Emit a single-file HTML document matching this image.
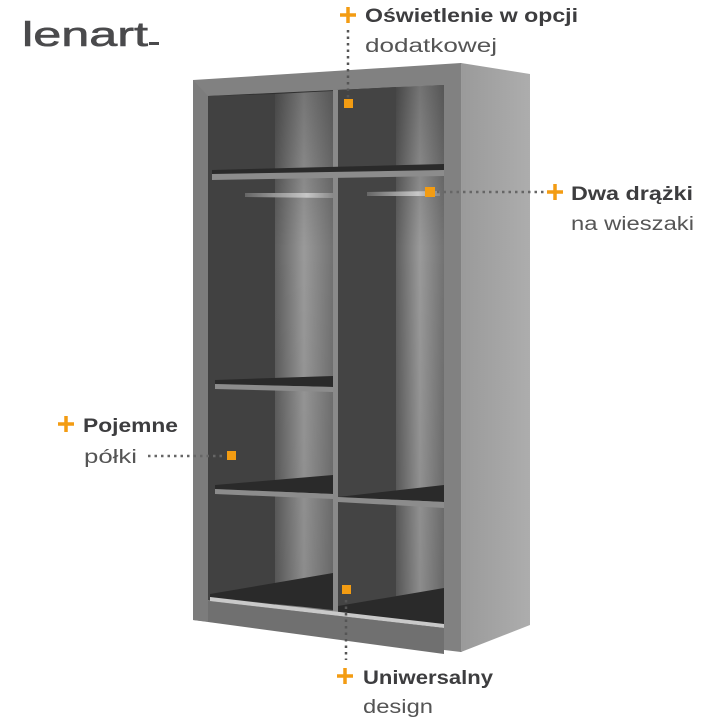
<!DOCTYPE html>
<html><head><meta charset="utf-8"><style>
html,body{margin:0;padding:0;background:#fff;}
svg{display:block;}
text{font-family:"Liberation Sans",sans-serif;}
</style></head><body>
<svg width="720" height="720" viewBox="0 0 720 720" xmlns="http://www.w3.org/2000/svg">
<defs>
<linearGradient id="back" x1="0" x2="1" y1="0" y2="0">
<stop offset="0" stop-color="#5e5e5e"/><stop offset="0.5" stop-color="#9a9a9a"/><stop offset="1" stop-color="#727272"/></linearGradient>
<linearGradient id="backv" x1="0" x2="0" y1="0" y2="1">
<stop offset="0" stop-color="#000" stop-opacity="0.25"/><stop offset="0.3" stop-color="#000" stop-opacity="0"/><stop offset="1" stop-color="#000" stop-opacity="0.1"/></linearGradient>
<linearGradient id="side" x1="0" x2="1" y1="0" y2="0">
<stop offset="0" stop-color="#9a9a9a"/><stop offset="1" stop-color="#adadad"/></linearGradient>
<linearGradient id="rail" x1="0" x2="1"><stop offset="0" stop-color="#666"/><stop offset="0.7" stop-color="#c8c8c8"/><stop offset="1" stop-color="#888"/></linearGradient>
</defs>
<!-- logo -->
<text x="22" y="46" font-size="34" fill="#4a4a4c" stroke="#4a4a4c" stroke-width="0.6" textLength="126" lengthAdjust="spacingAndGlyphs">lenart</text>
<rect x="149" y="42" width="10" height="3" fill="#4a4a4c"/>

<!-- side panel -->
<polygon points="461,63 530,74 530,625 461,652" fill="url(#side)"/>
<line x1="461" y1="63" x2="461" y2="652" stroke="#9c9c9c" stroke-width="2"/>
<!-- front frame -->
<polygon points="193,80 461,63 461,652 193,620" fill="#818181"/>
<!-- interior -->
<polygon points="208,96 444,85 444,628 208,600" fill="#3e3e3e"/>
<!-- back panels -->
<polygon points="275,94 333,91 333,612 275,605" fill="url(#back)"/>
<polygon points="396,87 444,85 444,628 396,620" fill="url(#back)"/>
<polygon points="208,96 444,85 444,628 208,600" fill="url(#backv)"/>
<polygon points="208,96 275,94 275,605 208,600" fill="#414141"/>
<polygon points="338,90 396,87 396,620 338,614" fill="#444"/>
<!-- divider -->
<polygon points="333,90 338,90 338,620 333,620" fill="#8a8a8a"/>
<!-- top shelf -->
<polygon points="212,170 444,164 444,172 212,176" fill="#2a2a2a"/>
<polygon points="212,174 444,170 444,176 212,180" fill="#8c8c8c"/>
<!-- rails -->
<polygon points="245,193 333,193 333,198 245,197" fill="url(#rail)"/>
<polygon points="367,192 440,191 440,196 367,196" fill="url(#rail)"/>
<!-- left shelves -->
<polygon points="215,380 333,376 333,387 215,384" fill="#2a2a2a"/>
<polygon points="215,384 333,387 333,392 215,389" fill="#8c8c8c"/>
<polygon points="215,485 333,475 333,494 215,489" fill="#2a2a2a"/>
<polygon points="215,489 333,494 333,499 215,494" fill="#8c8c8c"/>
<!-- right shelf -->
<polygon points="338,497 444,485 444,502 338,497" fill="#2a2a2a"/>
<polygon points="338,497 444,502 444,508 338,502" fill="#8c8c8c"/>
<!-- floor -->
<polygon points="210,594 333,573 333,610 210,597" fill="#2a2a2a"/>
<polygon points="338,606 444,588 444,625 338,612" fill="#2a2a2a"/>
<polygon points="210,597 444,624 444,628 210,601" fill="#c9c9c9"/>
<!-- plinth -->
<polygon points="208,601 444,628 444,654 208,622" fill="#707070"/>
<polygon points="193,620 208,622 208,96 193,80" fill="#7c7c7c"/>

<!-- connectors -->
<line x1="348" y1="30" x2="348" y2="98" stroke="#555" stroke-width="2.5" stroke-dasharray="2.5 4"/>
<line x1="437" y1="192" x2="546" y2="192" stroke="#666" stroke-width="2.5" stroke-dasharray="2.5 4"/>
<line x1="148" y1="456" x2="222" y2="456" stroke="#666" stroke-width="2.5" stroke-dasharray="2.5 4"/>
<line x1="346" y1="600" x2="346" y2="660" stroke="#555" stroke-width="2.5" stroke-dasharray="2.5 4"/>
<g fill="#f39c12">
<rect x="344" y="99" width="9" height="9"/>
<rect x="425" y="187" width="10" height="10"/>
<rect x="227" y="451" width="9" height="9"/>
<rect x="342" y="585" width="9" height="9"/>
</g>
<g stroke="#f39c12" stroke-width="3.5">
<path d="M340 15H356M348 7V23"/>
<path d="M547 192H563M555 184V200"/>
<path d="M58 424H74M66 416V432"/>
<path d="M337 676H353M345 668V684"/>
</g>
<g font-size="19">
<text x="365" y="22" font-weight="bold" fill="#3d3d3f" textLength="213" lengthAdjust="spacingAndGlyphs">Oświetlenie w opcji</text>
<text x="365" y="52" fill="#555" textLength="132" lengthAdjust="spacingAndGlyphs">dodatkowej</text>
<text x="571" y="200" font-weight="bold" fill="#3d3d3f" textLength="122" lengthAdjust="spacingAndGlyphs">Dwa drążki</text>
<text x="571" y="230" fill="#555" textLength="123" lengthAdjust="spacingAndGlyphs">na wieszaki</text>
<text x="83" y="432" font-weight="bold" fill="#3d3d3f" textLength="95" lengthAdjust="spacingAndGlyphs">Pojemne</text>
<text x="84" y="463" fill="#555" textLength="53" lengthAdjust="spacingAndGlyphs">półki</text>
<text x="363" y="684" font-weight="bold" fill="#3d3d3f" textLength="130" lengthAdjust="spacingAndGlyphs">Uniwersalny</text>
<text x="363" y="713" fill="#555" textLength="70" lengthAdjust="spacingAndGlyphs">design</text>
</g>
</svg>
</body></html>
